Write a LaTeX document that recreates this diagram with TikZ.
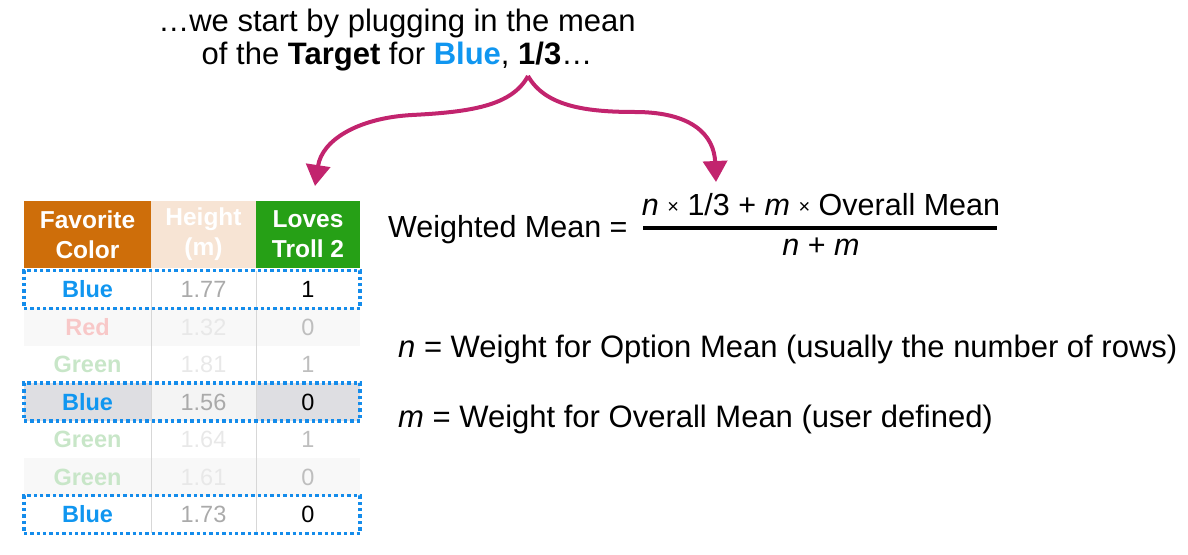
\documentclass[tikz,border=0pt]{standalone}
\usepackage{fontspec}
\setmainfont{Liberation Sans}
\usetikzlibrary{arrows.meta,fit}
\definecolor{hdorange}{RGB}{206,110,10}
\definecolor{hdpeach}{RGB}{247,228,212}
\definecolor{hdgreen}{RGB}{38,160,22}
\definecolor{blueT}{RGB}{16,150,240}
\definecolor{dotblue}{RGB}{20,140,235}
\definecolor{redF}{RGB}{248,200,200}
\definecolor{greenF}{RGB}{200,230,200}
\definecolor{magentaA}{RGB}{194,36,110}
\definecolor{numA}{RGB}{170,170,170}
\definecolor{numF}{RGB}{232,232,232}
\definecolor{lovF}{RGB}{190,190,190}
\definecolor{rowF}{RGB}{248,248,248}
\definecolor{rowG}{RGB}{222,222,226}
\definecolor{rowG2}{RGB}{244,244,244}
\definecolor{gridC}{RGB}{215,215,215}
\newcommand{\tms}{\raisebox{1.5pt}{\fontsize{20}{20}\selectfont ×}}
\begin{document}
\begin{tikzpicture}[x=1pt,y=-1pt,
  hd/.style={minimum height=67pt, inner sep=0, text=white, align=center,
    font=\fontsize{24.5}{30}\selectfont\bfseries},
  cell/.style={minimum height=37.5pt, inner sep=0},
  cA/.style={cell, minimum width=127pt, font=\fontsize{23.5}{26}\selectfont\bfseries},
  cB/.style={cell, minimum width=105pt, font=\fontsize{23.5}{26}\selectfont},
  cC/.style={cell, minimum width=104pt, font=\fontsize{23.5}{26}\selectfont},
  dotbox/.style={draw=dotblue, line width=3.8pt, dash pattern=on 3.4pt off 3pt, inner sep=0pt},
  arr/.style={draw=magentaA, line width=4pt, -{Triangle[width=24pt,length=21pt]}, fill=none},
  big/.style={font=\fontsize{30.5}{32}\selectfont},
  bigger/.style={font=\fontsize{31}{33}\selectfont},
  gridline/.style={draw=gridC, line width=1pt}
]
\useasboundingbox (0,0) rectangle (1188,554);

% title
\node[bigger, align=center] (title) at (397,40)
  {…we start by plugging in the mean\\of the \textbf{Target} for \textcolor{blueT}{\textbf{Blue}}, \textbf{1/3}…};

% arrows
\coordinate (apex) at (528,76);
\coordinate (ltip) at (315,186);
\coordinate (rtip) at (716,182);
\draw[arr] (apex) .. controls (512,106) and (470,112) .. (412,115)
  .. controls (358,118) and (322,140) .. (ltip);
\draw[arr] (apex) .. controls (545,106) and (585,112) .. (635,112)
  .. controls (692,112) and (714,135) .. (rtip);

% table header
\node[hd, minimum width=127pt, fill=hdorange] (h1) at (87.5,234.5) {Favorite\\Color};
\node[hd, minimum width=105pt, fill=hdpeach] (h2) at (203.5,234.5) {Height\\(m)};
\node[hd, minimum width=104pt, fill=hdgreen] (h3) at (308,234.5) {Loves\\Troll 2};

% rows
\node[cA, text=blueT] (r1a) at (87.5,289.5) {Blue};
\node[cB, text=numA] (r1b) at (203.5,289.5) {1.77};
\node[cC, text=black] (r1c) at (308,289.5) {1};

\node[cA, fill=rowF, text=redF] (r2a) at (87.5,327) {Red};
\node[cB, fill=rowF, text=numF] (r2b) at (203.5,327) {1.32};
\node[cC, fill=rowF, text=lovF] (r2c) at (308,327) {0};

\node[cA, text=greenF] (r3a) at (87.5,364.5) {Green};
\node[cB, text=numF] (r3b) at (203.5,364.5) {1.81};
\node[cC, text=lovF] (r3c) at (308,364.5) {1};

\node[cA, fill=rowG, text=blueT] (r4a) at (87.5,402) {Blue};
\node[cB, fill=rowG2, text=numA] (r4b) at (203.5,402) {1.56};
\node[cC, fill=rowG, text=black] (r4c) at (308,402) {0};

\node[cA, text=greenF] (r5a) at (87.5,439.5) {Green};
\node[cB, text=numF] (r5b) at (203.5,439.5) {1.64};
\node[cC, text=lovF] (r5c) at (308,439.5) {1};

\node[cA, fill=rowF, text=greenF] (r6a) at (87.5,477) {Green};
\node[cB, fill=rowF, text=numF] (r6b) at (203.5,477) {1.61};
\node[cC, fill=rowF, text=lovF] (r6c) at (308,477) {0};

\node[cA, text=blueT] (r7a) at (87.5,514.5) {Blue};
\node[cB, text=numA] (r7b) at (203.5,514.5) {1.73};
\node[cC, text=black] (r7c) at (308,514.5) {0};

% grid lines
\draw[gridline] (r1a.north east) -- (r7a.south east);
\draw[gridline] (r1b.north east) -- (r7b.south east);

% dotted boxes
\node[dotbox, fit=(r1a)(r1c)] (box1) {};
\node[dotbox, fit=(r4a)(r4c)] (box4) {};
\node[dotbox, fit=(r7a)(r7c)] (box7) {};

% formula
\node[big, anchor=base west, inner sep=0] (wm) at (388,237) {Weighted Mean =};
\node[big, anchor=base, inner sep=0] (num) at (821,215)
  {\textit{n} \tms{} 1/3 + \textit{m} \tms{} Overall Mean};
\coordinate (barL) at (643,228);
\coordinate (barR) at (997,228);
\draw[line width=4pt] (barL) -- (barR);
\node[big, anchor=base, inner sep=0] (den) at (821,255) {\textit{n} + \textit{m}};

% definitions
\node[bigger, anchor=base west, inner sep=0] (defn) at (398,357)
  {\textit{n} = Weight for Option Mean (usually the number of rows)};
\node[bigger, anchor=base west, inner sep=0] (defm) at (398,427)
  {\textit{m} = Weight for Overall Mean (user defined)};
\end{tikzpicture}
\end{document}
